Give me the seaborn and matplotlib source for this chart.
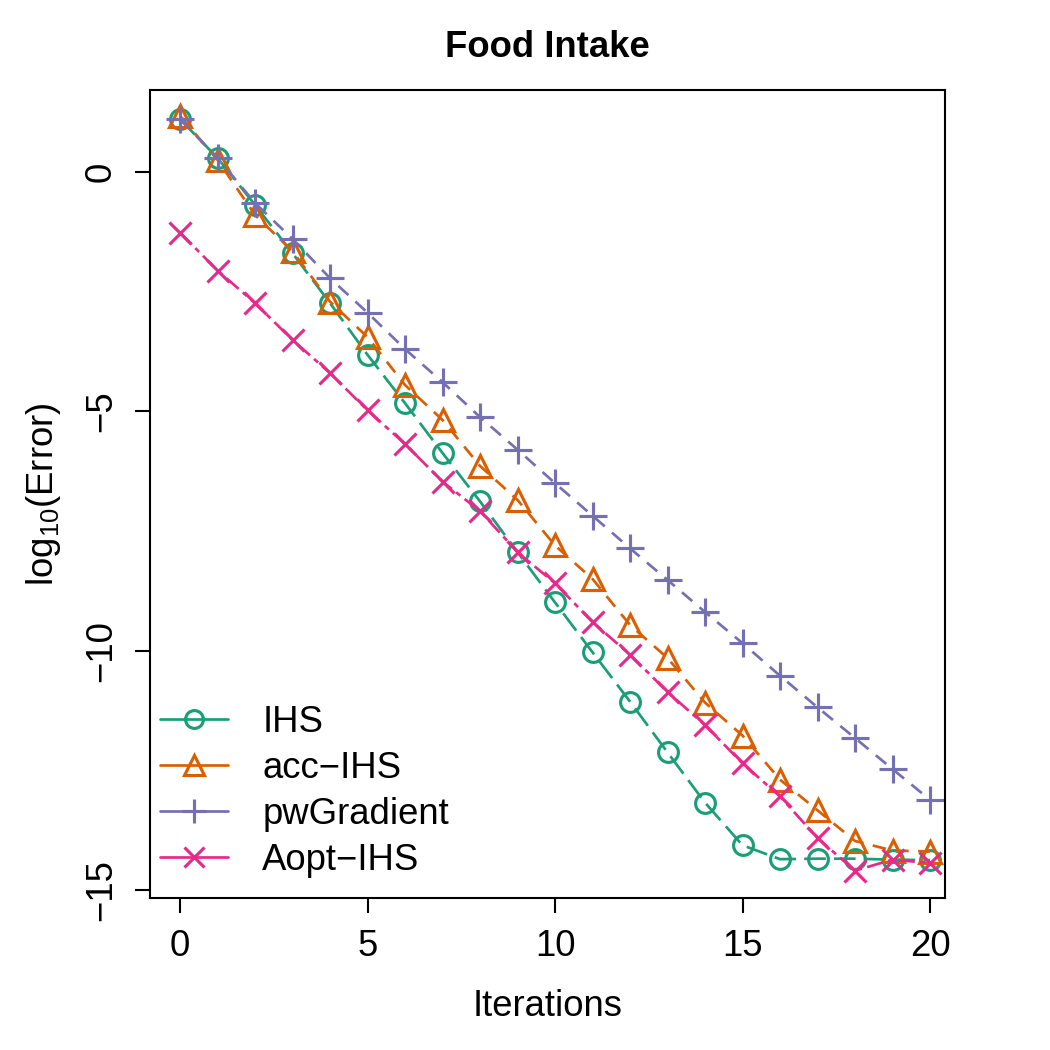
import numpy as np
import pandas as pd
import matplotlib
matplotlib.use("Agg")
import matplotlib.pyplot as plt
from matplotlib.lines import Line2D
import seaborn as sns

iterations = list(range(21))
methods = ["IHS", "acc\u2212IHS", "pwGradient", "Aopt\u2212IHS"]

ihs = [1.10, 0.29, -0.69, -1.70, -2.74, -3.82, -4.83, -5.87, -6.88, -7.94,
       -8.99, -10.03, -11.06, -12.12, -13.17, -14.06, -14.35, -14.34, -14.34,
       -14.36, -14.37]
acc_ihs = [1.17, 0.25, -0.90, -1.66, -2.71, -3.45, -4.45, -5.18, -6.14, -6.85,
           -7.80, -8.50, -9.46, -10.15, -11.08, -11.77, -12.69, -13.33, -13.97,
           -14.17, -14.19]
pw_gradient = [1.10, 0.29, -0.65, -1.40, -2.22, -2.94, -3.70, -4.39, -5.12,
               -5.80, -6.50, -7.18, -7.86, -8.52, -9.19, -9.84, -10.52, -11.18,
               -11.82, -12.47, -13.11]
aopt_ihs = [-1.27, -2.06, -2.74, -3.51, -4.20, -4.98, -5.68, -6.47, -7.08,
            -7.94, -8.59, -9.40, -10.08, -10.86, -11.55, -12.35, -13.04,
            -13.91, -14.59, -14.36, -14.43]

x_ticks = [0, 5, 10, 15, 20]
y_ticks = [-15, -10, -5, 0]
y_tick_labels = ["\u221215", "\u221210", "\u22125", "0"]

colors = ["#1B9E77", "#D95F02", "#7570B3", "#E7298A"]
markers = ["o", "^", "+", "x"]
msizes = [9.5, 11, 13, 11]
dash_styles = [(0, (8, 3)), (0, (5, 3.5)), (0, (5, 3.5)), (0, (6, 2, 2, 2))]

series = [ihs, acc_ihs, pw_gradient, aopt_ihs]
df = pd.DataFrame({
    "iter": iterations * 4,
    "err": sum(series, []),
    "method": sum([[m] * len(iterations) for m in methods], []),
})

sns.set_theme(style="ticks")
plt.rcParams["font.family"] = ["Liberation Sans", "DejaVu Sans"]
plt.rcParams["mathtext.fontset"] = "custom"
plt.rcParams["mathtext.rm"] = "Liberation Sans"
plt.rcParams["mathtext.it"] = "Liberation Sans"
plt.rcParams["text.color"] = "black"
plt.rcParams["axes.labelcolor"] = "black"
plt.rcParams["xtick.color"] = "black"
plt.rcParams["ytick.color"] = "black"
plt.rcParams["axes.edgecolor"] = "black"

fig = plt.figure(figsize=(7, 7), dpi=150)
ax = fig.add_axes([0.1429, 0.1448, 0.9 - 0.1429, 0.9143 - 0.1448])

for i, m in enumerate(methods):
    sub = df[df["method"] == m]
    sns.lineplot(data=sub, x="iter", y="err", ax=ax, color=colors[i],
                 marker=markers[i], markersize=msizes[i],
                 markerfacecolor="none", markeredgecolor=colors[i],
                 markeredgewidth=1.5, linewidth=1.3,
                 linestyle=dash_styles[i], legend=False)

ax.set_xlim(-0.8, 20.4)
ax.set_ylim(-15.16, 1.71)
ax.set_xticks(x_ticks)
ax.set_xticklabels([str(t) for t in x_ticks])
ax.set_yticks(y_ticks)
ax.set_yticklabels(y_tick_labels, rotation=90, va="center")
ax.tick_params(axis="both", labelsize=17.5, length=7, width=1, pad=8,
               direction="out", colors="black")
for sp in ax.spines.values():
    sp.set_visible(True)
    sp.set_linewidth(1.0)
    sp.set_color("black")

ax.set_xlabel("Iterations", fontsize=17.5, labelpad=12, color="black")
ax.set_ylabel(r"log$_{10}$(Error)", fontsize=17.5, labelpad=10, color="black")
ax.set_title("Food Intake", fontsize=17.5, fontweight="bold", pad=16,
             color="black")

handles = [Line2D([0], [0], color=colors[i], marker=markers[i],
                  markersize=msizes[i] * 0.9, markerfacecolor="none",
                  markeredgecolor=colors[i], markeredgewidth=1.5,
                  linewidth=1.3) for i in range(4)]
leg = ax.legend(handles, methods, loc="lower left",
                bbox_to_anchor=(0.0, 0.012), frameon=False, fontsize=17.5,
                handlelength=1.85, handletextpad=0.95, labelspacing=0.3,
                borderaxespad=0.0, borderpad=0.28)
for t in leg.get_texts():
    t.set_color("black")

fig.savefig("out.png", dpi=150, facecolor="white")
